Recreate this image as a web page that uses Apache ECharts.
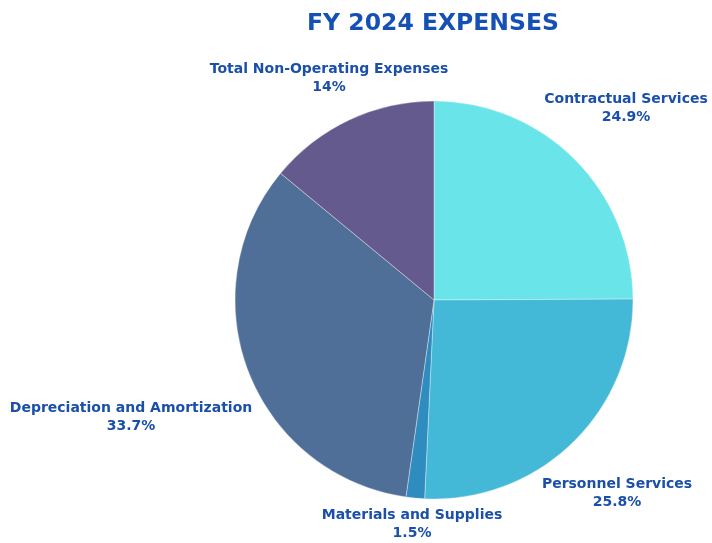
<!DOCTYPE html>
<html>
<head>
<meta charset="utf-8">
<script src="https://cdn.jsdelivr.net/npm/echarts@6/dist/echarts.min.js"></script>
<style>html,body{margin:0;padding:0;background:#fff;}#c{width:712px;height:543px;}</style>
</head>
<body>
<div id="c"></div>
<script>
const categories = ['Contractual Services', 'Personnel Services', 'Materials and Supplies', 'Depreciation and Amortization', 'Total Non-Operating Expenses'];
const values = [24.9, 25.8, 1.5, 33.7, 14];
const colors = ['#69E4E8', '#43B8D7', '#2F8CBE', '#4F6F99', '#645A8E'];
const labelSpots = {
  'Contractual Services': [626, 108],
  'Personnel Services': [617, 493],
  'Materials and Supplies': [412, 524],
  'Depreciation and Amortization': [131, 417],
  'Total Non-Operating Expenses': [329, 78]
};
const chart = echarts.init(document.getElementById('c'), null, {renderer: 'canvas'});
chart.setOption({
  animation: false,
  title: {
    text: 'FY 2024 EXPENSES', left: 428, top: 7, textAlign: 'center',
    textStyle: {fontFamily: 'DejaVu Sans', fontWeight: 'bold', fontSize: 23.5, color: '#1551B5'}
  },
  series: [{
    type: 'pie',
    center: [434, 300],
    radius: 199,
    startAngle: 90,
    clockwise: true,
    avoidLabelOverlap: false,
    data: categories.map((n, i) => ({name: n, value: values[i], itemStyle: {color: colors[i]}})),
    itemStyle: {borderColor: 'rgba(255,255,255,0.6)', borderWidth: 0.6},
    label: {
      show: true, position: 'outside',
      formatter: p => p.name + '\n' + p.value + '%',
      fontFamily: 'DejaVu Sans', fontWeight: 'bold', fontSize: 14, lineHeight: 18,
      color: '#1A4FAA', align: 'center'
    },
    labelLine: {show: false},
    labelLayout: p => {
      const s = labelSpots[categories[p.dataIndex]];
      return {x: s[0], y: s[1], align: 'center', verticalAlign: 'middle'};
    },
    emphasis: {disabled: true}
  }]
});
</script>
</body>
</html>
